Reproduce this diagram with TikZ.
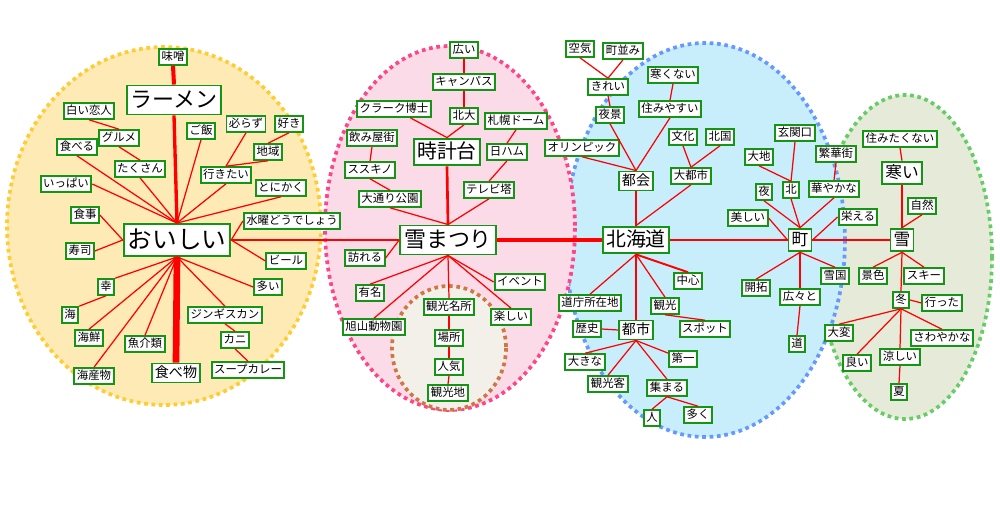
\documentclass[tikz,border=0pt]{standalone}
\usepackage{fontspec}
\setmainfont{Noto Sans CJK JP}
\definecolor{ngreen}{RGB}{20,150,20}
\definecolor{yfill}{RGB}{254,234,181}
\definecolor{yline}{RGB}{255,204,51}
\definecolor{pfill}{RGB}{252,219,232}
\definecolor{pline}{RGB}{255,68,136}
\definecolor{bfill}{RGB}{200,237,251}
\definecolor{bline}{RGB}{102,153,255}
\definecolor{gfill}{RGB}{229,235,216}
\definecolor{gline}{RGB}{102,204,102}
\definecolor{cfill}{RGB}{243,240,233}
\definecolor{cline}{RGB}{204,119,68}
\begin{document}
\begin{tikzpicture}[x=0.2mm,y=-0.2mm,
  box/.style={draw=ngreen, line width=1.1pt, fill=white, anchor=center},
  sm/.style={box, font=\fontsize{6.5}{7}\selectfont, text height=5.5pt, text depth=1pt, inner xsep=1.4pt, inner ysep=1.2pt},
  md/.style={box, font=\fontsize{8}{9}\selectfont, text height=6.8pt, text depth=1.2pt, inner xsep=1.6pt, inner ysep=1.4pt},
  mdl/.style={box, font=\fontsize{9.5}{10}\selectfont, text height=8.1pt, text depth=1.4pt, inner xsep=1.8pt, inner ysep=1.7pt},
  lg/.style={box, font=\fontsize{11.3}{12}\selectfont, text height=9.6pt, text depth=1.7pt, inner xsep=2pt, inner ysep=2pt},
  xl/.style={box, font=\fontsize{12.5}{13}\selectfont, text height=10.6pt, text depth=1.9pt, inner xsep=2.2pt, inner ysep=2pt},
  xxl/.style={box, font=\fontsize{14}{15}\selectfont, text height=11.9pt, text depth=2.1pt, inner xsep=2.3pt, inner ysep=2.1pt},
  ln/.style={red, line width=0.7pt},
  dots/.style={line width=2.1pt, dash pattern=on 2.1pt off 2.1pt}
]
\useasboundingbox (0,0) rectangle (1000,519);
% regions
\fill[gfill] (905,257) ellipse [x radius=87, y radius=162];
\draw[dots, gline] (905,257) ellipse [x radius=87, y radius=162];
\fill[bfill] (705,240) ellipse [x radius=140, y radius=197];
\draw[dots, bline] (705,240) ellipse [x radius=140, y radius=197];
\fill[pfill] (450,228) ellipse [x radius=125, y radius=182];
\draw[dots, pline] (450,228) ellipse [x radius=125, y radius=182];
\fill[yfill] (164,226) ellipse [x radius=157, y radius=179];
\draw[dots, yline] (164,226) ellipse [x radius=157, y radius=179];
\fill[cfill] (449,348) ellipse [x radius=57, y radius=62];
\draw[dots, cline] (449,348) ellipse [x radius=57, y radius=62];

% left cluster
\node[sm] (miso) at (173,57) {味噌};
\node[xl] (ramen) at (174,100) {ラーメン};
\node[sm] (shiroi) at (89,111) {白い恋人};
\node[sm] (gurume) at (119,138) {グルメ};
\node[sm] (taberu) at (77,147) {食べる};
\node[sm] (takusan) at (140,169) {たくさん};
\node[sm] (ippai) at (66,184) {いっぱい};
\node[sm] (gohan) at (201,131) {ご飯};
\node[sm] (kanarazu) at (246,124) {必らず};
\node[sm] (suki) at (289,124) {好き};
\node[sm] (chiiki) at (268,152) {地域};
\node[sm] (ikitai) at (226,175) {行きたい};
\node[sm] (tonikaku) at (281,188) {とにかく};
\node[sm] (shokuji) at (85,215) {食事};
\node[sm] (suiyou) at (292,221) {水曜どうでしょう};
\node[sm] (sushi) at (80,251) {寿司};
\node[xxl] (oishii) at (177,240) {おいしい};
\node[sm] (beer) at (286,261) {ビール};
\node[sm] (ooi) at (268,287) {多い};
\node[sm] (sachi) at (106,287) {幸};
\node[sm] (umi) at (70,315) {海};
\node[sm] (kaisen) at (89,338) {海鮮};
\node[sm] (gyokai) at (145,344) {魚介類};
\node[md] (tabemono) at (176,373) {食べ物};
\node[sm] (kaisanbutsu) at (94,376) {海産物};
\node[sm] (jingis) at (225,315) {ジンギスカン};
\node[sm] (kani) at (235,340) {カニ};
\node[sm] (soup) at (248,370) {スープカレー};

% pink cluster
\node[sm] (hiroi) at (464,50) {広い};
\node[sm] (campus) at (464,82) {キャンパス};
\node[sm] (hokudai) at (464,116) {北大};
\node[sm] (clark) at (394,109) {クラーク博士};
\node[sm] (dome) at (516,121) {札幌ドーム};
\node[sm] (nomiya) at (372,138) {飲み屋街};
\node[lg] (tokei) at (447,152) {時計台};
\node[sm] (nippon) at (507,152) {日ハム};
\node[sm] (susukino) at (370,170) {ススキノ};
\node[sm] (tvtower) at (489,190) {テレビ塔};
\node[sm] (odori) at (390,199) {大通り公園};
\node[xl] (yukimatsuri) at (448,240) {雪まつり};
\node[sm] (otozureru) at (365,258) {訪れる};
\node[sm] (yumei) at (370,293) {有名};
\node[sm] (asahiyama) at (374,327) {旭山動物園};
\node[sm] (meisho) at (449,307) {観光名所};
\node[sm] (event) at (520,282) {イベント};
\node[sm] (tanoshii) at (511,317) {楽しい};
\node[sm] (basho) at (449,338) {場所};
\node[sm] (ninki) at (449,367) {人気};
\node[sm] (kankouchi) at (448,393) {観光地};

% blue cluster
\node[sm] (kuuki) at (580,49) {空気};
\node[sm] (machinami) at (623,51) {町並み};
\node[sm] (kirei) at (608,87) {きれい};
\node[sm] (samukunai) at (673,75) {寒くない};
\node[sm] (sumiyasui) at (670,109) {住みやすい};
\node[sm] (yakei) at (610,115) {夜景};
\node[sm] (bunka) at (683,137) {文化};
\node[sm] (kitaguni) at (720,137) {北国};
\node[sm] (olympic) at (582,148) {オリンピック};
\node[md] (tokai) at (636,181) {都会};
\node[sm] (daitoshi) at (691,176) {大都市};
\node[sm] (genkan) at (795,133) {玄関口};
\node[sm] (daichi) at (759,157) {大地};
\node[sm] (yoru) at (764,192) {夜};
\node[sm] (kita) at (791,190) {北};
\node[sm] (utsukushii) at (748,218) {美しい};
\node[sm] (hankagai) at (836,154) {繁華街};
\node[sm] (hanayaka) at (834,189) {華やかな};
\node[sm] (sakaeru) at (858,217) {栄える};
\node[mdl] (machi) at (800,240) {町};
\node[lg] (hokkaido) at (636,240) {北海道};
\node[sm] (chuushin) at (688,281) {中心};
\node[sm] (docho) at (590,303) {道庁所在地};
\node[sm] (kankou) at (665,306) {観光};
\node[md] (toshi) at (636,330) {都市};
\node[sm] (rekishi) at (587,329) {歴史};
\node[sm] (spot) at (705,329) {スポット};
\node[sm] (ookina) at (585,362) {大きな};
\node[sm] (daiichi) at (683,359) {第一};
\node[sm] (kankoukyaku) at (608,384) {観光客};
\node[sm] (atsumaru) at (667,388) {集まる};
\node[sm] (hito) at (652,418) {人};
\node[sm] (ooku) at (698,415) {多く};
\node[sm] (kaitaku) at (756,288) {開拓};
\node[sm] (hirobiro) at (800,297) {広々と};
\node[sm] (michi) at (797,344) {道};
\node[sm] (yukiguni) at (835,276) {雪国};

% green cluster
\node[mdl] (yuki) at (902,240) {雪};
\node[sm] (sumitakunai) at (900,139) {住みたくない};
\node[mdl] (samui) at (902,173) {寒い};
\node[sm] (shizen) at (922,206) {自然};
\node[sm] (keshiki) at (873,276) {景色};
\node[sm] (ski) at (924,276) {スキー};
\node[sm] (fuyu) at (901,300) {冬};
\node[sm] (itta) at (942,303) {行った};
\node[sm] (taihen) at (839,333) {大変};
\node[sm] (sawayaka) at (942,338) {さわやかな};
\node[sm] (yoi) at (857,363) {良い};
\node[sm] (suzushii) at (900,357) {涼しい};
\node[sm] (natsu) at (899,392) {夏};

% connectors: left
\draw[red, line width=2.3pt] (miso.south) -- (ramen.north);
\draw[red, line width=1.9pt] (ramen.south) -- (oishii.north);
\draw[red, line width=3.8pt] (oishii.south) -- (tabemono.north);
\draw[ln] (taberu.south) -- (oishii.north);
\draw[ln] (ippai.east) -- (oishii.north);
\draw[ln] (takusan.south) -- (oishii.north);
\draw[ln] (gohan.south) -- (oishii.north);
\draw[ln] (ikitai.south) -- (oishii.north);
\draw[ln] (tonikaku.south) -- (oishii.north);
\draw[ln] (shiroi.south) -- (gurume.north);
\draw[ln] (gurume.south) -- (takusan.north);
\draw[ln] (kanarazu.south) -- (ikitai.north);
\draw[ln] (chiiki.south) -- (ikitai.north);
\draw[ln] (suki.south) -- (chiiki.north);
\draw[ln] (shokuji.east) -- (oishii.west);
\draw[ln] (sushi.east) -- (oishii.west);
\draw[ln] (suiyou.west) -- (oishii.east);
\draw[ln] (beer.west) -- (oishii.east);
\draw[ln] (sachi.north east) -- (oishii.south);
\draw[ln] (kaisen.north) -- (oishii.south);
\draw[ln] (kaisanbutsu.north) -- (oishii.south);
\draw[ln] (gyokai.north) -- (oishii.south);
\draw[ln] (ooi.west) -- (oishii.south);
\draw[ln] (jingis.north) -- (oishii.south);
\draw[ln] (sachi.south) -- (umi.north east);
\draw[ln] (jingis.south) -- (kani.north);
\draw[ln] (kani.south) -- (soup.north);
\draw[ln] (oishii.east) -- (yukimatsuri.west);

% connectors: pink
\draw[ln] (hiroi.south) -- (campus.north);
\draw[ln] (campus.south) -- (hokudai.north);
\draw[ln] (hokudai.south) -- (tokei.north);
\draw[ln] (clark) -- (tokei.north);
\draw[ln] (nomiya.south) -- (susukino.north);
\draw[ln] (susukino.south) -- (odori.north);
\draw[ln] (odori.south) -- (yukimatsuri.north);
\draw[red, line width=1.5pt] (tokei.south) -- (yukimatsuri.north);
\draw[ln] (dome.south) -- (nippon.north);
\draw[ln] (nippon.south) -- (tvtower.north);
\draw[ln] (tvtower.south) -- (yukimatsuri.north);
\draw[ln] (otozureru.east) -- (yukimatsuri.west);
\draw[ln] (yumei.north) -- (yukimatsuri.south);
\draw[ln] (asahiyama.north) -- (yukimatsuri.south);
\draw[ln] (meisho.north) -- (yukimatsuri.south);
\draw[ln] (event.west) -- (yukimatsuri.south);
\draw[ln] (tanoshii.north) -- (yukimatsuri.south);
\draw[ln] (meisho.south) -- (basho.north);
\draw[ln] (basho.south) -- (ninki.north);
\draw[ln] (ninki.south) -- (kankouchi.north);
\draw[red, line width=1.9pt] (yukimatsuri.east) -- (hokkaido.west);

% connectors: blue
\draw[ln] (kuuki.south) -- (kirei.north);
\draw[ln] (machinami.south) -- (kirei.north);
\draw[ln] (kirei.south) -- (yakei.north);
\draw[ln] (yakei.south) -- (tokai.north);
\draw[ln] (samukunai.south) -- (sumiyasui.north);
\draw[ln] (sumiyasui.south) -- (tokai.north);
\draw[ln] (olympic.south) -- (tokai.north);
\draw[ln] (tokai.south) -- (hokkaido.north);
\draw[ln] (bunka.south) -- (daitoshi.north);
\draw[ln] (kitaguni.south) -- (daitoshi.north);
\draw[ln] (daitoshi.south) -- (hokkaido.north);
\draw[red, line width=1.1pt] (hokkaido.south) -- (chuushin.north);
\draw[ln] (hokkaido.south) -- (docho.north);
\draw[ln] (hokkaido.south) -- (kankou.north);
\draw[ln] (hokkaido.south) -- (toshi.north);
\draw[ln] (kankou.south) -- (spot.north);
\draw[ln] (rekishi.east) -- (toshi.west);
\draw[ln] (toshi.south) -- (ookina.north);
\draw[ln] (toshi.south) -- (daiichi);
\draw[ln] (toshi.south) -- (kankoukyaku.north);
\draw[ln] (toshi.south) -- (atsumaru.north);
\draw[ln] (atsumaru.south) -- (hito.north);
\draw[ln] (atsumaru.south) -- (ooku.north);
\draw[ln] (hokkaido.east) -- (machi.west);
\draw[ln] (genkan.south) -- (kita.north);
\draw[ln] (daichi.south) -- (kita.north);
\draw[ln] (kita.south) -- (machi.north);
\draw[ln] (yoru.south) -- (machi.north);
\draw[ln] (utsukushii.east) -- (machi.west);
\draw[ln] (hanayaka.south) -- (machi.north);
\draw[ln] (hankagai.south) -- (hanayaka.north);
\draw[ln] (sakaeru.west) -- (machi.east);
\draw[ln] (machi.south) -- (kaitaku.north);
\draw[ln] (machi.south) -- (hirobiro.north);
\draw[ln] (machi.south) -- (yukiguni.north);
\draw[ln] (hirobiro.south) -- (michi.north);
\draw[ln] (machi.east) -- (yuki.west);

% connectors: green
\draw[ln] (sumitakunai.south) -- (samui.north);
\draw[ln] (samui.south) -- (yuki.north);
\draw[ln] (shizen.south) -- (yuki.north);
\draw[ln] (yuki.south) -- (keshiki.north);
\draw[ln] (yuki.south) -- (ski.north);
\draw[ln] (yuki.south) -- (fuyu.north);
\draw[ln] (fuyu.east) -- (itta.west);
\draw[ln] (fuyu.south) -- (taihen.north);
\draw[ln] (fuyu.south) -- (yoi.north);
\draw[ln] (fuyu.south) -- (suzushii.north);
\draw[ln] (fuyu.south) -- (sawayaka.north);
\draw[ln] (suzushii.south) -- (natsu.north);
\end{tikzpicture}
\end{document}
